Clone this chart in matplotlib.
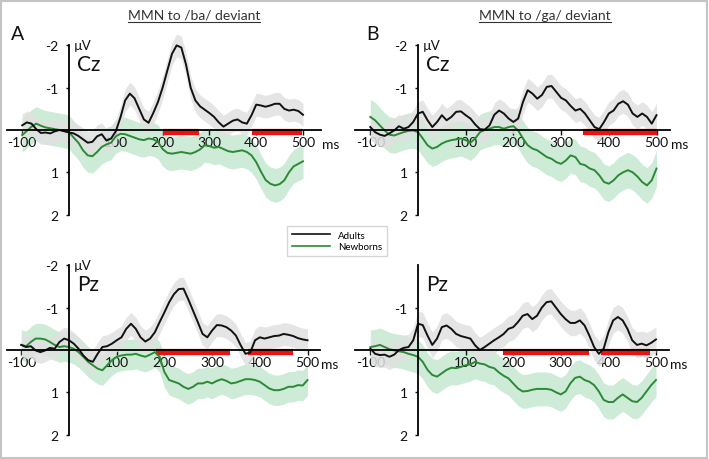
# -*- coding: utf-8 -*-
# MMN difference waves, adults vs newborns, Cz and Pz
import numpy as np
import matplotlib
matplotlib.use("Agg")
import matplotlib.pyplot as plt
from matplotlib.patches import Rectangle
from matplotlib.lines import Line2D

plt.rcParams['font.family'] = ['Lato', 'DejaVu Sans']

# time axis, ms (10 ms steps)
times = list(range(-100, 510, 10))

# --- /ba/ deviant, Cz (microvolts, negative up) ---
ba_cz_adults = [-0.11, -0.18, -0.15, -0.02, 0.07, 0.06, 0.08, 0.03, 0.0, 0.03,
                0.06, 0.08, 0.14, 0.22, 0.30, 0.28, 0.15, 0.10, 0.25, 0.20,
                0.03, -0.30, -0.70, -0.86, -0.75, -0.50, -0.25, -0.17, -0.40, -0.66,
                -1.00, -1.40, -1.80, -2.00, -1.95, -1.55, -1.00, -0.70, -0.56, -0.48,
                -0.40, -0.31, -0.18, -0.08, -0.15, -0.22, -0.25, -0.18, -0.15, -0.35,
                -0.60, -0.58, -0.55, -0.58, -0.62, -0.62, -0.50, -0.46, -0.48, -0.45,
                -0.36]
ba_cz_newborns = [0.12, 0.02, -0.08, -0.15, -0.10, -0.06, -0.04, -0.02, 0.0, 0.02,
                  0.05, 0.18, 0.30, 0.48, 0.60, 0.62, 0.52, 0.40, 0.34, 0.30,
                  0.15, 0.09, 0.10, 0.14, 0.18, 0.22, 0.24, 0.20, 0.22, 0.28,
                  0.45, 0.54, 0.56, 0.54, 0.52, 0.54, 0.56, 0.52, 0.46, 0.36,
                  0.38, 0.42, 0.40, 0.45, 0.50, 0.52, 0.50, 0.48, 0.52, 0.60,
                  0.76, 0.98, 1.18, 1.27, 1.31, 1.28, 1.19, 1.00, 0.86, 0.80,
                  0.74]

# --- /ga/ deviant, Cz ---
ga_cz_adults = [-0.07, 0.05, 0.11, 0.14, 0.08, 0.01, -0.09, -0.03, -0.07, -0.19,
                -0.39, -0.43, -0.23, -0.07, -0.19, -0.35, -0.23, -0.31, -0.43, -0.44,
                -0.35, -0.27, -0.13, -0.02, -0.01, -0.11, -0.36, -0.46, -0.39, -0.27,
                -0.19, -0.27, -0.66, -0.94, -0.86, -0.74, -0.83, -1.02, -1.04, -0.90,
                -0.76, -0.70, -0.57, -0.46, -0.50, -0.39, -0.23, -0.07, -0.02, -0.19,
                -0.39, -0.46, -0.62, -0.68, -0.60, -0.39, -0.31, -0.39, -0.31, -0.15,
                -0.35]
ga_cz_newborns = [-0.31, -0.23, -0.11, 0.01, 0.11, 0.13, 0.09, 0.05, 0.02, 0.01,
                  0.05, 0.20, 0.36, 0.44, 0.40, 0.32, 0.27, 0.24, 0.22, 0.20,
                  0.24, 0.30, 0.20, 0.05, 0.0, -0.03, -0.07, -0.07, -0.03, -0.07,
                  -0.09, 0.01, 0.20, 0.36, 0.44, 0.48, 0.56, 0.64, 0.68, 0.76,
                  0.80, 0.72, 0.60, 0.64, 0.80, 0.83, 0.91, 0.95, 1.07, 1.23,
                  1.27, 1.19, 1.07, 1.00, 0.95, 1.00, 1.10, 1.23, 1.31, 1.19,
                  0.91]

# --- /ba/ deviant, Pz ---
ba_pz_adults = [-0.12, -0.07, -0.09, 0.01, 0.05, 0.01, -0.05, -0.03, -0.19, -0.27,
                -0.23, -0.15, -0.03, 0.13, 0.24, 0.28, 0.09, -0.07, -0.09, -0.15,
                -0.23, -0.30, -0.50, -0.62, -0.50, -0.30, -0.20, -0.27, -0.42, -0.66,
                -0.89, -1.13, -1.32, -1.44, -1.45, -1.20, -0.93, -0.66, -0.38, -0.30,
                -0.46, -0.59, -0.58, -0.54, -0.46, -0.34, -0.11, 0.09, 0.06, -0.23,
                -0.30, -0.27, -0.30, -0.33, -0.34, -0.38, -0.36, -0.33, -0.28, -0.25,
                -0.23]
ba_pz_newborns = [-0.12, -0.09, -0.19, -0.27, -0.27, -0.25, -0.19, -0.12, -0.07, -0.09,
                  -0.07, -0.03, 0.05, 0.16, 0.28, 0.36, 0.44, 0.48, 0.36, 0.24,
                  0.16, 0.13, 0.11, 0.11, 0.09, 0.13, 0.16, 0.11, 0.05, 0.16,
                  0.52, 0.71, 0.75, 0.79, 0.87, 0.92, 0.87, 0.79, 0.79, 0.75,
                  0.79, 0.73, 0.69, 0.73, 0.79, 0.77, 0.73, 0.69, 0.69, 0.71,
                  0.75, 0.83, 0.91, 0.95, 0.95, 0.92, 0.87, 0.87, 0.83, 0.84,
                  0.71]

# --- /ga/ deviant, Pz ---
ga_pz_adults = [-0.03, 0.09, 0.12, 0.11, 0.16, 0.11, 0.0, -0.05, -0.07, -0.23,
                -0.62, -0.59, -0.34, -0.12, -0.27, -0.54, -0.58, -0.50, -0.38, -0.33,
                -0.30, -0.27, -0.11, 0.0, -0.07, -0.15, -0.23, -0.30, -0.38, -0.50,
                -0.54, -0.66, -0.81, -0.85, -0.73, -0.81, -1.00, -1.13, -1.15, -1.00,
                -0.85, -0.73, -0.64, -0.64, -0.70, -0.58, -0.34, -0.07, 0.09, -0.03,
                -0.42, -0.70, -0.78, -0.70, -0.50, -0.23, -0.12, -0.15, -0.11, -0.17,
                -0.25]
ga_pz_newborns = [-0.07, -0.09, -0.12, -0.07, -0.02, 0.01, 0.03, 0.05, 0.09, 0.12,
                  0.16, 0.28, 0.47, 0.59, 0.63, 0.55, 0.47, 0.42, 0.43, 0.40,
                  0.36, 0.34, 0.28, 0.32, 0.34, 0.40, 0.43, 0.53, 0.61, 0.67,
                  0.79, 0.91, 0.98, 0.97, 0.94, 0.92, 0.92, 0.92, 0.94, 1.00,
                  1.05, 0.98, 0.79, 0.66, 0.63, 0.71, 0.75, 0.83, 0.98, 1.18,
                  1.23, 1.23, 1.13, 1.05, 1.13, 1.21, 1.23, 1.13, 0.98, 0.83,
                  0.71]

# approximate half-width of the shaded error bands (uV)
band_adults = [0.27, 0.28, 0.27, 0.30]
band_newborns = [0.40, 0.42, 0.36, 0.40]

# significant intervals (ms) for the red bars
sig_ba_cz = [(200, 278), (392, 497)]
sig_ga_cz = [(345, 500)]
sig_ba_pz = [(183, 338), (376, 470)]
sig_ga_pz = [(178, 360), (385, 488)]

titles = ["MMN to /ba/ deviant", "MMN to /ga/ deviant"]
xticks = [-100, 100, 200, 300, 400, 500]
yticks = [-2, -1, 1, 2]

BLACK = "#111111"
GREEN = "#2b8a35"
GRAY_FILL = "#e1e1e1"
GREEN_FILL = "#cdebd6"
RED = "#ee1111"

W, H = 709, 460
fig = plt.figure(figsize=(W / 100, H / 100), dpi=100)


def make_axes(x0, y0, px_ms, px_uv, xlo, xhi, ylo=-2.3, yhi=2.1):
    # place axes so that (0 ms, 0 uV) sits at pixel (x0, y0)
    left = x0 + xlo * px_ms
    right = x0 + xhi * px_ms
    top = y0 + ylo * px_uv
    bottom = y0 + yhi * px_uv
    ax = fig.add_axes([left / W, 1 - bottom / H, (right - left) / W, (bottom - top) / H])
    ax.set_xlim(xlo, xhi)
    ax.set_ylim(yhi, ylo)
    ax.patch.set_alpha(0)
    return ax


panels = [
    (make_axes(69, 131, 0.468, 42.3, -133, 539), ba_cz_adults, ba_cz_newborns, sig_ba_cz, "Cz", True, 540),
    (make_axes(418, 131, 0.477, 42.3, -132, 528), ga_cz_adults, ga_cz_newborns, sig_ga_cz, "Cz", True, 531),
    (make_axes(69, 351, 0.477, 42.3, -130, 526), ba_pz_adults, ba_pz_newborns, sig_ba_pz, "Pz", True, 528),
    (make_axes(418, 351, 0.476, 42.3, -132, 528), ga_pz_adults, ga_pz_newborns, sig_ga_pz, "Pz", False, 530),
]

t = np.array(times)
for i, (ax, adults, newborns, sig, site, top_label, ms_x) in enumerate(panels):
    a = np.array(adults)
    n = np.array(newborns)
    ax.fill_between(t, n - band_newborns[i], n + band_newborns[i], color=GREEN_FILL, lw=0, zorder=1)
    ax.fill_between(t, a - band_adults[i], a + band_adults[i], color=GRAY_FILL, lw=0, alpha=0.85, zorder=2)
    ax.plot(t, n, color=GREEN, lw=1.4, zorder=4)
    ax.plot(t, a, color=BLACK, lw=1.4, zorder=5)
    for s, e in sig:
        ax.plot([s, e], [0.04, 0.04], color=RED, lw=4.5, solid_capstyle='butt', zorder=3)

    for side in ['top', 'right']:
        ax.spines[side].set_visible(False)
    ax.spines['left'].set_position(('data', 0))
    ax.spines['bottom'].set_position(('data', 0))
    ax.spines['left'].set_bounds(-2, 2)
    ax.spines['left'].set_linewidth(1.3)
    ax.spines['bottom'].set_linewidth(1.3)
    ax.spines['left'].set_zorder(6)
    ax.spines['bottom'].set_zorder(6)

    ax.set_xticks(xticks)
    ax.set_xticklabels([str(v) for v in xticks])
    if top_label:
        ax.set_yticks(yticks)
        ax.set_yticklabels([str(v) for v in yticks])
    else:
        ax.set_yticks(yticks[1:])
        ax.set_yticklabels([str(v) for v in yticks[1:]])
    ax.tick_params(axis='x', direction='out', length=3.5, width=1, pad=1, labelsize=10, colors=BLACK)
    ax.tick_params(axis='y', direction='out', length=2.5, width=1, pad=5, labelsize=10, colors=BLACK)

    ax.text(ms_x, 0.2, "ms", fontsize=10, ha='left', va='top', color=BLACK)
    if top_label:
        ax.text(10, -2.0, "\u00b5V", fontsize=9.5, ha='left', va='center', color=BLACK)
    ax.text(17, -1.55, site, fontsize=15, ha='left', va='center', color=BLACK)

# titles, underlined
renderer = fig.canvas.get_renderer()
for x, title in zip([194, 545], titles):
    txt = fig.text(x / W, 1 - 16 / H, title, fontsize=10, ha='center', va='center', color="#333333")
    bb = txt.get_window_extent(renderer=renderer)
    fig.add_artist(Line2D([bb.x0 / W, bb.x1 / W], [(bb.y0 - 1) / H, (bb.y0 - 1) / H],
                          color="#333333", lw=0.8, transform=fig.transFigure))

fig.text(18 / W, 1 - 34 / H, "A", fontsize=14, ha='center', va='center', color=BLACK)
fig.text(372 / W, 1 - 34 / H, "B", fontsize=14, ha='center', va='center', color=BLACK)

# legend
handles = [Line2D([], [], color=BLACK, lw=1.2), Line2D([], [], color=GREEN, lw=1.2)]
fig.legend(handles, ["Adults", "Newborns"], loc='center', bbox_to_anchor=(337 / W, 1 - 242 / H),
           fontsize=7, frameon=True, fancybox=False, edgecolor="#cccccc", handlelength=4,
           borderpad=0.5, labelspacing=0.3)

# outer frame
fig.add_artist(Rectangle((1 / W, 1 / H), (W - 3) / W, (H - 3) / H, transform=fig.transFigure,
                         fill=False, edgecolor="#c4c4c4", lw=1.5))

fig.savefig("out.png", dpi=100)
